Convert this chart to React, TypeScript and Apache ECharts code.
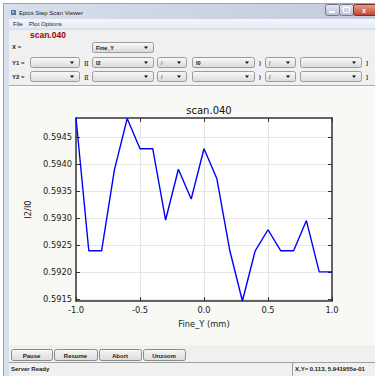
import React, { useEffect, useRef } from 'react';
import * as echarts from 'echarts';

const scanTitle = 'scan.040';
const windowTitle = 'Epics Step Scan Viewer';
const xLabel = 'Fine_Y (mm)';
const yLabel = 'I2/I0';
const fineY = [-1.0, -0.9, -0.8, -0.7, -0.6, -0.5, -0.4, -0.3, -0.2, -0.1, 0.0, 0.1, 0.2, 0.3, 0.4, 0.5, 0.6, 0.7, 0.8, 0.9, 1.0];
const ratio = [0.59485, 0.59239, 0.59239, 0.59389, 0.59484, 0.59428, 0.59428, 0.59296, 0.5939, 0.59335, 0.59428, 0.59373, 0.59241, 0.59146, 0.59239, 0.59278, 0.59239, 0.59239, 0.59295, 0.592, 0.592];
const xTicks = [-1.0, -0.5, 0.0, 0.5, 1.0];
const yTicks = [0.5915, 0.592, 0.5925, 0.593, 0.5935, 0.594, 0.5945];
const menuItems = ['File', 'Plot Options'];
const buttonLabels = ['Pause', 'Resume', 'Abort', 'Unzoom'];
const statusLeft = 'Server Ready';
const statusRight = 'X,Y= 0.113, 5.941955e-01';
const xChoice = 'Fine_Y';
const y1Choices = ['', 'I2', '/', 'I0', '/', ''];
const y2Choices = ['', '', '/', '', '/', ''];

const UI_FONT = '"Liberation Sans", Arial, sans-serif';
const PLOT_FONT = '"DejaVu Sans", sans-serif';
const Z = -10;

function txt(x: number, y: number, s: string, size: number, opts: any = {}) {
  return {
    type: 'text', x, y, z: Z, silent: true,
    style: {
      text: s, fontSize: size, fontFamily: opts.family || UI_FONT,
      fontWeight: opts.bold ? 'bold' : 'normal', fill: opts.color || '#1a1a1a',
      align: opts.align || 'left', verticalAlign: 'middle',
    },
  };
}
function box(x: number, y: number, w: number, h: number, fill: any, stroke?: string, r = 0) {
  return {
    type: 'rect', z: Z, silent: true,
    shape: { x, y, width: w, height: h, r },
    style: stroke ? { fill, stroke, lineWidth: 1 } : { fill },
  };
}
function vgrad(a: string, b: string) {
  return new echarts.graphic.LinearGradient(0, 0, 0, 1, [{ offset: 0, color: a }, { offset: 1, color: b }]);
}
function dropdown(x0: number, x1: number, y: number, label: string) {
  const h = 10;
  const els: any[] = [];
  els.push(box(x0 + 0.5, y + 0.5, x1 - x0, h, vgrad('#fafafa', '#dadada'), '#9c9c9c', 2));
  const ax = x1 - 7, ay = y + h / 2 + 0.5;
  els.push({ type: 'polygon', z: Z, silent: true, shape: { points: [[ax - 2, ay - 1], [ax + 2, ay - 1], [ax, ay + 1.5]] }, style: { fill: '#111' } });
  if (label) {
    const color = label === '/' ? '#7a5a3a' : '#111';
    els.push(txt(x0 + 4, y + h / 2 + 0.5, label, 5.5, { bold: true, color }));
  }
  return els;
}

function chrome() {
  const els: any[] = [];
  els.push(box(3, 3, 372, 373, new echarts.graphic.LinearGradient(0, 0, 1, 0, [
    { offset: 0, color: '#d8dfec' }, { offset: 0.5, color: '#cdd4e4' }, { offset: 1, color: '#c4cbdd' },
  ])));
  els.push(box(3, 3, 372, 1, '#9aa3b8'));
  els.push(box(3, 3, 1, 373, '#9aa3b8'));
  els.push(box(11, 10, 5, 5, '#4f78a8'));
  els.push(box(12, 11, 2, 2, '#9fd08a'));
  els.push(txt(19, 12.5, windowTitle, 6));
  els.push(box(325.5, 4.5, 14, 11, vgrad('#e3e7f0', '#b9c0d2'), '#6f7890', 2));
  els.push(box(339.5, 4.5, 14, 11, vgrad('#e3e7f0', '#b9c0d2'), '#6f7890', 2));
  els.push(box(353.5, 4.5, 24, 11, vgrad('#e8a08e', '#c0412c'), '#7a3020', 2));
  els.push(box(329, 11, 6, 2, '#ffffff'));
  els.push(box(343.5, 7.5, 6, 5, 'none', '#ffffff'));
  els.push(txt(364, 10, 'x', 7, { bold: true, color: '#ffffff', align: 'center' }));
  els.push(box(9, 19, 366, 357, '#f0f0f0'));
  els.push(box(9, 19, 366, 10, vgrad('#f4f6fb', '#e4e9f3')));
  els.push(box(9, 28, 366, 2, '#d9e0ee'));
  els.push(txt(13, 24, menuItems[0], 6));
  els.push(txt(29, 24, menuItems[1], 6));
  els.push(txt(30, 34.5, scanTitle, 8.5, { bold: true, color: '#a00000' }));
  els.push(txt(12, 47, 'X =', 6, { bold: true }));
  els.push(...dropdown(92, 153, 42, xChoice));
  const cols: [number, number][] = [[30, 79], [92, 153], [157, 186], [192, 254], [265, 295], [300, 361]];
  const rows: [string, number, string[]][] = [['Y1 =', 57, y1Choices], ['Y2 =', 71, y2Choices]];
  rows.forEach(([lab, y, choices]) => {
    els.push(txt(12, y + 5.5, lab, 6, { bold: true }));
    cols.forEach(([a, b], i) => els.push(...dropdown(a, b, y, choices[i])));
    els.push(txt(86.5, y + 5.5, '[[', 6, { bold: true, color: '#4a1a1a', align: 'center' }));
    els.push(txt(260, y + 5.5, ')', 6, { bold: true, color: '#4a1a1a', align: 'center' }));
    els.push(txt(367, y + 5.5, ']', 6, { bold: true, color: '#4a1a1a', align: 'center' }));
  });
  els.push(box(9, 85, 366, 1, '#a8a8a8'));
  els.push(box(9, 86, 366, 1, '#ffffff'));
  els.push(box(9, 87, 366, 258, '#f8f8f4'));
  const bx: [number, number][] = [[11, 52], [54, 97], [99, 141], [143, 185]];
  bx.forEach(([a, b], i) => {
    els.push(box(a + 0.5, 349.5, b - a, 11, vgrad('#f6f6f6', '#dcdcdc'), '#8c8c8c', 2));
    els.push(txt((a + b) / 2, 355.5, buttonLabels[i], 6, { bold: true, align: 'center' }));
  });
  els.push(box(9, 362, 366, 1, '#a0a0a0'));
  els.push(box(9, 363, 366, 13, '#f0f0f0'));
  els.push(box(292, 363, 1, 13, '#a0a0a0'));
  els.push(txt(11, 369, statusLeft, 6, { bold: true }));
  els.push(txt(295, 369, statusRight, 6, { bold: true }));
  return els;
}

export default function App() {
  const ref = useRef<HTMLDivElement>(null);
  useEffect(() => {
    document.body.style.margin = '0';
    if (!ref.current) return;
    const chart = echarts.init(ref.current, undefined, { renderer: 'svg' });
    const yMin = Math.min(...ratio);
    const yMax = Math.max(...ratio);
    const xMin = fineY[0];
    const xMax = fineY[fineY.length - 1];
    const spine = { show: true, onZero: false, lineStyle: { color: '#333333', width: 1.5 } };
    const tick = (vals: number[]) => ({ show: true, inside: true, length: 4, customValues: vals, lineStyle: { color: '#333333', width: 1 } });
    const grid = { show: true, lineStyle: { color: '#e6e6e6', width: 1 } };
    const labelStyle = { fontFamily: PLOT_FONT, fontSize: 8.3, color: '#222222' };
    chart.setOption({
      animation: false,
      backgroundColor: '#ffffff',
      title: {
        text: scanTitle, left: 204, top: 100, textAlign: 'center',
        textStyle: { fontFamily: PLOT_FONT, fontSize: 10, fontWeight: 'normal', color: '#111111' },
      },
      grid: { left: 76, right: 43, top: 118, bottom: 75, show: true, backgroundColor: '#ffffff', borderWidth: 0, containLabel: false },
      xAxis: [
        {
          type: 'value', min: xMin, max: xMax, position: 'bottom',
          axisLine: spine, axisTick: tick(xTicks), splitLine: grid,
          axisLabel: { ...labelStyle, margin: 5, customValues: xTicks, formatter: (v: number) => v.toFixed(1) },
          name: xLabel, nameLocation: 'middle', nameGap: 19, nameTextStyle: labelStyle,
        },
        {
          type: 'value', min: xMin, max: xMax, position: 'top',
          axisLine: spine, axisTick: tick(xTicks), splitLine: { show: false }, axisLabel: { show: false, customValues: xTicks },
        },
      ],
      yAxis: [
        {
          type: 'value', min: yMin, max: yMax, position: 'left',
          axisLine: spine, axisTick: tick(yTicks), splitLine: grid,
          axisLabel: { ...labelStyle, margin: 4, customValues: yTicks, formatter: (v: number) => v.toFixed(4) },
          name: yLabel, nameLocation: 'middle', nameGap: 38, nameTextStyle: labelStyle,
        },
        {
          type: 'value', min: yMin, max: yMax, position: 'right',
          axisLine: spine, axisTick: tick(yTicks), splitLine: { show: false }, axisLabel: { show: false, customValues: yTicks },
        },
      ],
      series: [
        {
          type: 'line', xAxisIndex: 0, yAxisIndex: 0,
          data: fineY.map((x, i) => [x, ratio[i]]),
          showSymbol: false, symbol: 'none',
          lineStyle: { color: '#0000ff', width: 1.4 },
        },
      ],
      graphic: { elements: chrome() },
    });
    return () => chart.dispose();
  }, []);
  return <div ref={ref} style={{ position: 'fixed', left: 0, top: 0, width: 375, height: 376 }} />;
}
